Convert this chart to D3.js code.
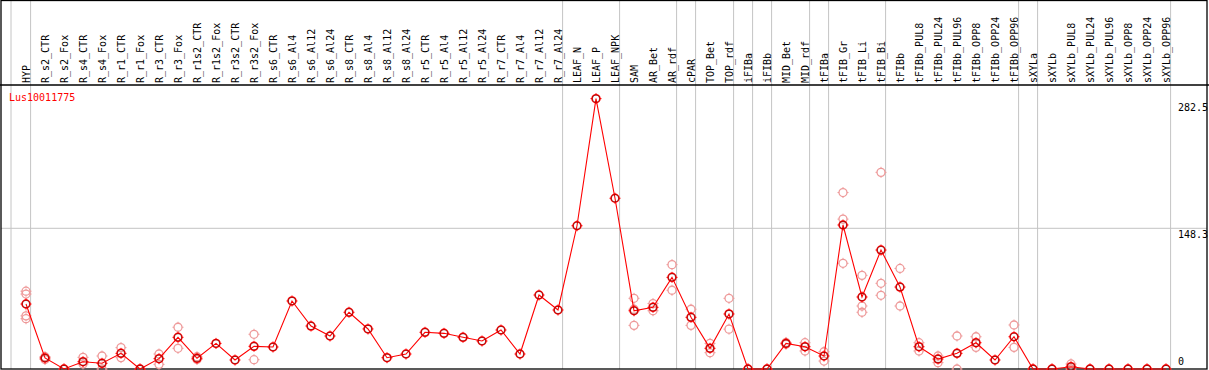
<!DOCTYPE html>
<html>
<head>
<meta charset="utf-8">
<script src="https://cdn.jsdelivr.net/npm/d3@7"></script>
<style>
  body { margin: 0; background: #fff; }
  text { font-family: "DejaVu Sans Mono", monospace; font-size: 10px; }
</style>
</head>
<body>
<div id="chart"></div>
<script>
/* DATA */
const geneName = "Lus10011775";

const categories = ["HYP", "R_s2_CTR", "R_s2_Fox", "R_s4_CTR", "R_s4_Fox", "R_r1_CTR", "R_r1_Fox",
  "R_r3_CTR", "R_r3_Fox", "R_r1s2_CTR", "R_r1s2_Fox", "R_r3s2_CTR", "R_r3s2_Fox", "R_s6_CTR",
  "R_s6_Al4", "R_s6_Al12", "R_s6_Al24", "R_s8_CTR", "R_s8_Al4", "R_s8_Al12", "R_s8_Al24",
  "R_r5_CTR", "R_r5_Al4", "R_r5_Al12", "R_r5_Al24", "R_r7_CTR", "R_r7_Al4", "R_r7_Al12", "R_r7_Al24",
  "LEAF_N", "LEAF_P", "LEAF_NPK", "SAM", "AR_Bet", "AR_rdf", "cPAR", "TOP_Bet", "TOP_rdf",
  "iFIBa", "iFIBb", "MID_Bet", "MID_rdf", "tFIBa", "tFIB_Gr", "tFIB_Li", "tFIB_Bi", "tFIBb",
  "tFIBb_PUL8", "tFIBb_PUL24", "tFIBb_PUL96", "tFIBb_OPP8", "tFIBb_OPP24", "tFIBb_OPP96",
  "sXYLa", "sXYLb", "sXYLb_PUL8", "sXYLb_PUL24", "sXYLb_PUL96", "sXYLb_OPP8", "sXYLb_OPP24", "sXYLb_OPP96"];

// mean expression per sample
const means = [68.5, 11.6, 0, 7.7, 6, 16.5, 0, 10.9, 33.4, 11.3, 27, 9.5, 23.9, 23.2,
  71.7, 45.3, 34.8, 59.8, 42.2, 11.9, 15.8, 38.7, 37.6, 33.4, 29.5, 41.1, 15.8, 78, 62.2,
  151, 285, 180, 61.4, 65, 96.6, 54.5, 21.8, 58, 0, 0, 27, 23.5, 13.7, 151.8, 75.9, 125.4, 86.4,
  23.5, 10.5, 16.5, 27.7, 9.5, 34, 0, 0, 2.4, 0, 0, 0, 0, 0];

// biological replicates per sample
const replicates = [
  [82, 79, 56, 53], [13, 10], [0], [12.3, 5.3], [13.7, 0], [22.5, 12], [0],
  [15.8, 4.9], [44, 21.8], [12.9, 10], [], [], [36.6, 9.8], [],
  [], [], [], [], [], [], [],
  [], [], [], [], [], [], [], [],
  [], [], [], [74.5, 46, 63], [69, 61.4], [110, 83], [63, 46], [27, 17.2], [74.5, 42],
  [0], [0], [28, 26], [27.7, 19], [18.2, 8.4], [186, 158, 111.4], [98.7, 66.4, 59.8], [207.3, 90.3, 77.7], [106, 66.4],
  [27.7, 19], [13.7, 6.7], [34.8, 0], [34, 22.8], [], [46.4, 22.8],
  [0], [0], [5.3, 0], [0], [0], [0], [0], [0]];

// tissue groups end after these sample indexes (-1 = before the first)
const separatorAfter = [-1, 0, 28, 31, 34, 35, 37, 38, 39, 41, 42, 45, 52, 53, 60];

const yTicks = [0, 148.3, 282.5];

/* LAYOUT */
const width = 1209, height = 370;
const plotTop = 85, plotBottom = 369, left = 1, right = 1207;

const svg = d3.select("#chart").append("svg")
  .attr("width", width)
  .attr("height", height);

const x = d3.scalePoint()
  .domain(categories)
  .range([26, 1166]);

const y = d3.scaleLinear()
  .domain([0, 282.5])
  .range([plotBottom, 101]);

// grid lines
svg.append("g")
  .selectAll("line")
  .data(separatorAfter)
  .join("line")
  .attr("x1", d => d < 0 ? x(categories[0]) - x.step() + 4 : x(categories[d]) + 4.6)
  .attr("x2", d => d < 0 ? x(categories[0]) - x.step() + 4 : x(categories[d]) + 4.6)
  .attr("y1", 0)
  .attr("y2", plotBottom)
  .attr("stroke", "#c4c4c4")
  .attr("stroke-width", 1);

svg.append("line")
  .attr("x1", left).attr("x2", right)
  .attr("y1", y(148.3)).attr("y2", y(148.3))
  .attr("stroke", "#c4c4c4");

// frame
svg.append("rect")
  .attr("x", 1).attr("y", 0.5)
  .attr("width", right - 1).attr("height", plotBottom - 0.5)
  .attr("fill", "none")
  .attr("stroke", "#000")
  .attr("stroke-width", 1.3);

svg.append("line")
  .attr("x1", 0).attr("x2", width)
  .attr("y1", plotTop).attr("y2", plotTop)
  .attr("stroke", "#000")
  .attr("stroke-width", 1.3);

// sample labels (rotated)
svg.append("g")
  .selectAll("text")
  .data(categories)
  .join("text")
  .attr("transform", d => `translate(${x(d) + 3.6}, 83) rotate(-90)`)
  .attr("fill", "#000")
  .text(d => d);

// y labels on the right
svg.append("g")
  .selectAll("text")
  .data(yTicks)
  .join("text")
  .attr("x", 1178)
  .attr("y", d => d === 0 ? y(d) - 4 : y(d) + 9.5)
  .attr("fill", "#000")
  .text(d => d);

svg.append("text")
  .attr("x", 9)
  .attr("y", 101)
  .attr("fill", "#ff0000")
  .text(geneName);

// marker: circle with 4 small ticks
function marker(g, color, sw) {
  g.append("circle")
    .attr("r", 4)
    .attr("fill", "none")
    .attr("stroke", color)
    .attr("stroke-width", sw);
  g.selectAll("line.tk")
    .data([[0, -4, 0, -5.5], [0, 4, 0, 5.5], [-4, 0, -5.5, 0], [4, 0, 5.5, 0]])
    .join("line")
    .attr("class", "tk")
    .attr("x1", d => d[0]).attr("y1", d => d[1])
    .attr("x2", d => d[2]).attr("y2", d => d[3])
    .attr("stroke", color)
    .attr("stroke-width", 1);
}

// replicate points
const repPoints = [];
replicates.forEach((reps, i) => reps.forEach(v => repPoints.push({ cat: categories[i], v })));

svg.append("g")
  .selectAll("g")
  .data(repPoints)
  .join("g")
  .attr("transform", d => `translate(${x(d.cat)}, ${y(d.v)})`)
  .each(function () { marker(d3.select(this), "#ee9a9a", 1.3); });

// mean line
const lineGen = d3.line()
  .x((d, i) => x(categories[i]))
  .y(d => y(d));

svg.append("path")
  .datum(means)
  .attr("d", lineGen)
  .attr("fill", "none")
  .attr("stroke", "#ff0000")
  .attr("stroke-width", 1.1);

// mean points
svg.append("g")
  .selectAll("g")
  .data(means)
  .join("g")
  .attr("transform", (d, i) => `translate(${x(categories[i])}, ${y(d)})`)
  .each(function () {
    const g = d3.select(this);
    marker(g, "#ff0000", 1.5);
    g.append("circle")
      .attr("r", 3.6)
      .attr("fill", "none")
      .attr("stroke", "#300")
      .attr("stroke-width", 0.6)
      .attr("opacity", 0.7);
  });
</script>
</body>
</html>
